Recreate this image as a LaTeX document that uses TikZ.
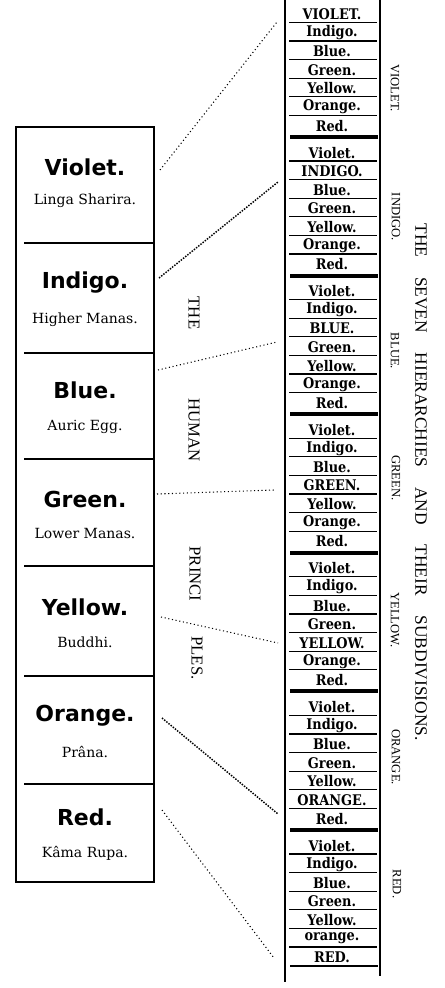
\documentclass[tikz,border=0pt]{standalone}
\usepackage{fontspec}
\setmainfont{Liberation Serif}
\newfontfamily\titlefont{DejaVu Sans}
\newfontfamily\subfont{DejaVu Serif}
\newfontfamily\rowfont[FakeStretch=0.88]{DejaVu Serif}

\tikzset{
  cellhead/.style={font=\titlefont\bfseries\fontsize{16.5}{18}\selectfont},
  cellsub/.style={font=\subfont\fontsize{10.5}{12}\selectfont},
  rowtext/.style={font=\rowfont\bfseries\fontsize{11}{12}\selectfont, inner sep=0pt},
  sidetext/.style={rotate=-90, font=\fontsize{9.5}{11}\selectfont},
  midtext/.style={rotate=-90, font=\fontsize{12.5}{14}\selectfont},
  link/.style={dotted, line width=0.8pt},
  boldlink/.style={densely dotted, line width=1.1pt}
}

\begin{document}
\begin{tikzpicture}[x=0.75pt,y=-0.75pt]
\useasboundingbox (0,0) rectangle (444,988);

% left column: the seven principles
\draw[line width=1.1pt] (16,127) rectangle (154,882);
\foreach \y in {243,353,459,566,676,784}
  \draw[line width=1pt] (24,\y) -- (153,\y);

\node[cellhead] (hViolet) at (85,167) {Violet.};
\node[cellsub]  (sViolet) at (85,201) {Linga Sharira.};
\node[cellhead] (hIndigo) at (85,283) {Indigo.};
\node[cellsub]  (sIndigo) at (85,320) {Higher Manas.};
\node[cellhead] (hBlue)   at (85,390) {Blue.};
\node[cellsub]  (sBlue)   at (85,427) {Auric Egg.};
\node[cellhead] (hGreen)  at (85,499) {Green.};
\node[cellsub]  (sGreen)  at (85,533) {Lower Manas.};
\node[cellhead] (hYellow) at (85,607) {Yellow.};
\node[cellsub]  (sYellow) at (85,642) {Buddhi.};
\node[cellhead] (hOrange) at (85,716) {Orange.};
\node[cellsub]  (sOrange) at (85,752) {Prâna.};
\node[cellhead] (hRed)    at (85,817) {Red.};
\node[cellsub]  (sRed)    at (85,853) {Kâma Rupa.};

% middle words
\node[midtext] (mThe)    at (194,313) {THE};
\node[midtext] (mHuman)  at (194,430) {HUMAN};
\node[midtext] (mPrinci) at (195,574) {PRINCI};
\node[midtext] (mPles)   at (197,658) {PLES.};

% right column: the hierarchies
\draw[line width=0.9pt] (285,0) -- (285,982);
\draw[line width=0.9pt] (380,0) -- (380,976);
\foreach \g in {0,...,6}{
  \pgfmathsetmacro{\T}{3+138.6*\g}
  \foreach \k/\nm/\NM in {0/Violet./VIOLET., 1/Indigo./INDIGO., 2/Blue./BLUE.,
      3/Green./GREEN., 4/Yellow./YELLOW., 5/Orange./ORANGE., 6/Red./RED.}{
    \ifnum\k=\g
      \node[rowtext] (r\g-\k) at (332,\T+11+18.6*\k) {\NM};
    \else
      \ifnum\g\k=65
        \node[rowtext] (r\g-\k) at (332,\T+11+18.6*\k) {orange.};
      \else
        \node[rowtext] (r\g-\k) at (332,\T+11+18.6*\k) {\nm};
      \fi
    \fi
  }
  \foreach \k in {1,...,6}
    \draw[line width=0.8pt] (289,\T+0.8+18.6*\k) -- (377,\T+0.8+18.6*\k);
}
\foreach \g in {0,...,5}
  \draw[line width=3pt] (290,137+138.6*\g) -- (378,137+138.6*\g);
\draw[line width=1.2pt] (290,966) -- (378,966);

% group labels
\node[sidetext] (gViolet) at (395,88)  {VIOLET.};
\node[sidetext] (gIndigo) at (396,217) {INDIGO.};
\node[sidetext] (gBlue)   at (395,351) {BLUE.};
\node[sidetext] (gGreen)  at (396,478) {GREEN.};
\node[sidetext] (gYellow) at (395,620) {YELLOW.};
\node[sidetext] (gOrange) at (396,757) {ORANGE.};
\node[sidetext] (gRed)    at (397,884) {RED.};

\node[rotate=-90, font=\fontsize{13}{15}\selectfont] (title) at (421,482)
  {THE\hspace{1.15em}SEVEN\hspace{1.15em}HIERARCHIES\hspace{1.15em}AND\hspace{1.15em}THEIR\hspace{1.15em}SUBDIVISIONS.};

% links between principles and hierarchies
\foreach \i/\ax/\ay/\bx/\by in {1/160/170/277/22, 2/159/278/278/182, 3/158/370/277/342,
    4/157/494/274/490, 5/161/617/278/643, 6/162/718/278/814, 7/162/810/274/958}{
  \coordinate (p\i) at (\ax,\ay);
  \coordinate (q\i) at (\bx,\by);
}
\draw[link] (p1) -- (q1);
\draw[boldlink] (p2) -- (q2);
\draw[link] (p3) -- (q3);
\draw[link] (p4) -- (q4);
\draw[link] (p5) -- (q5);
\draw[boldlink] (p6) -- (q6);
\draw[link] (p7) -- (q7);
\end{tikzpicture}
\end{document}
